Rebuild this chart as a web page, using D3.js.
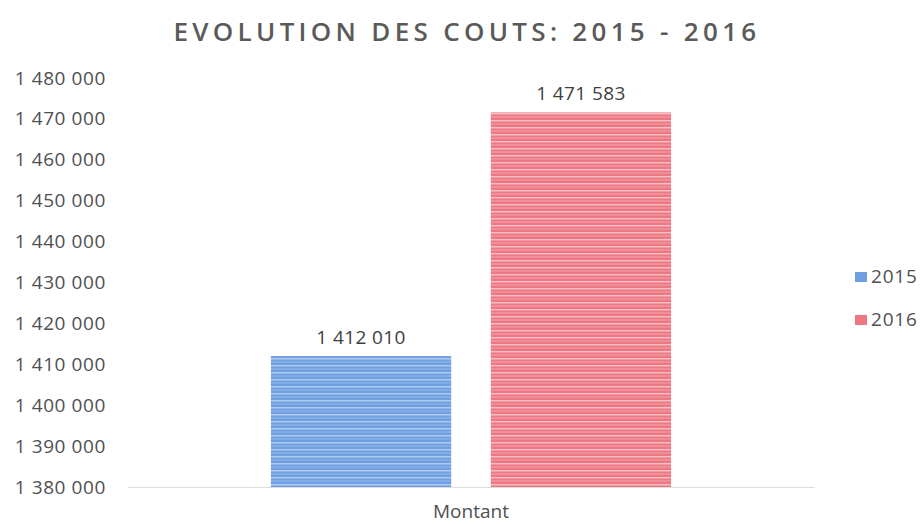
<!DOCTYPE html>
<html>
<head>
<meta charset="utf-8">
<script src="https://cdn.jsdelivr.net/npm/d3@7"></script>
<style>
  html, body { margin: 0; padding: 0; background: #fff; }
  svg { display: block; }
</style>
</head>
<body>
<svg id="chart" width="924" height="524"></svg>
<script>
const categories = ["Montant"];
const seriesNames = ["2015", "2016"];
const values2015 = [1412010];
const values2016 = [1471583];
const yTicks = [1380000, 1390000, 1400000, 1410000, 1420000, 1430000, 1440000, 1450000, 1460000, 1470000, 1480000];
const title = "EVOLUTION DES COUTS: 2015 - 2016";

const seriesColors = ["#6f9fe1", "#ec7884"];
const stripeColors = ["#b0cbf0", "#f8bcc3"];

const svg = d3.select("#chart");
const margin = { left: 128, right: 110, top: 78, bottom: 37 };
const W = 924, H = 524;
const FONT = "'Open Sans', 'DejaVu Sans', sans-serif";

const locale = d3.formatLocale({ decimal: ",", thousands: " ", grouping: [3], currency: ["", "€"] });
const fmt = locale.format(",d");

const y = d3.scaleLinear().domain([1380000, 1480000]).range([H - margin.bottom, margin.top]);
const x0 = d3.scaleBand().domain(categories).range([margin.left, W - margin.right]);
const x1 = d3.scaleBand().domain(seriesNames).range([0, x0.bandwidth()]).paddingInner(0.18).paddingOuter(0.65);

// stripe patterns
const defs = svg.append("defs");
seriesNames.forEach((s, i) => {
  const p = defs.append("pattern")
    .attr("id", "stripe" + i)
    .attr("patternUnits", "userSpaceOnUse")
    .attr("width", 8).attr("height", 7);
  p.append("rect").attr("width", 8).attr("height", 7).attr("fill", seriesColors[i]);
  p.append("rect").attr("y", 1).attr("width", 8).attr("height", 1.5).attr("fill", stripeColors[i]);
  p.append("rect").attr("y", 4.5).attr("width", 8).attr("height", 1).attr("fill", stripeColors[i]).attr("opacity", 0.6);
});

// title
svg.append("text")
  .attr("x", 467).attr("y", 41)
  .attr("text-anchor", "middle")
  .attr("font-family", FONT)
  .attr("font-size", 26)
  .attr("letter-spacing", 4.3)
  .attr("font-weight", 600)
  .attr("fill", "#5a5a5a")
  .text(title);

// y axis
const yAxis = d3.axisLeft(y).tickValues(yTicks).tickFormat(fmt).tickSize(0).tickPadding(0);
const gy = svg.append("g").attr("transform", `translate(${106},0)`).call(yAxis);
gy.select(".domain").remove();
gy.selectAll("text")
  .attr("font-family", FONT)
  .attr("font-size", 19)
  .attr("letter-spacing", 0.6)
  .attr("fill", "#505050");

// x axis
const xAxis = d3.axisBottom(x0).tickSize(0).tickPadding(18);
const gx = svg.append("g").attr("transform", `translate(0,${y(1380000)})`).call(xAxis);
gx.select(".domain").attr("stroke", "#dcdcdc").attr("stroke-width", 1);
gx.selectAll("text")
  .attr("font-family", FONT)
  .attr("font-size", 19)
  .attr("fill", "#505050");

// bars
const data = categories.map((c, ci) => ({
  cat: c,
  vals: [{ s: seriesNames[0], v: values2015[ci], i: 0 }, { s: seriesNames[1], v: values2016[ci], i: 1 }]
}));

const groups = svg.append("g").selectAll("g").data(data).join("g")
  .attr("transform", d => `translate(${x0(d.cat)},0)`);

groups.selectAll("rect").data(d => d.vals).join("rect")
  .attr("x", d => x1(d.s))
  .attr("width", x1.bandwidth())
  .attr("y", d => y(d.v))
  .attr("height", d => y(1380000) - y(d.v))
  .attr("fill", d => `url(#stripe${d.i})`);

groups.selectAll("text.val").data(d => d.vals).join("text")
  .attr("class", "val")
  .attr("x", d => x1(d.s) + x1.bandwidth() / 2)
  .attr("y", d => y(d.v) - 12)
  .attr("text-anchor", "middle")
  .attr("font-family", FONT)
  .attr("font-size", 19)
  .attr("letter-spacing", 0.4)
  .attr("fill", "#404040")
  .text(d => fmt(d.v));

// legend
const legend = svg.append("g").attr("transform", "translate(855,270)");
seriesNames.forEach((s, i) => {
  const g = legend.append("g").attr("transform", `translate(0,${i * 43})`);
  g.append("rect").attr("width", 12).attr("height", 10).attr("y", 2).attr("fill", seriesColors[i]);
  g.append("text").attr("x", 16).attr("y", 13)
    .attr("font-family", FONT)
    .attr("font-size", 19)
    .attr("letter-spacing", 0.8)
    .attr("fill", "#505050")
    .text(s);
});
</script>
</body>
</html>
